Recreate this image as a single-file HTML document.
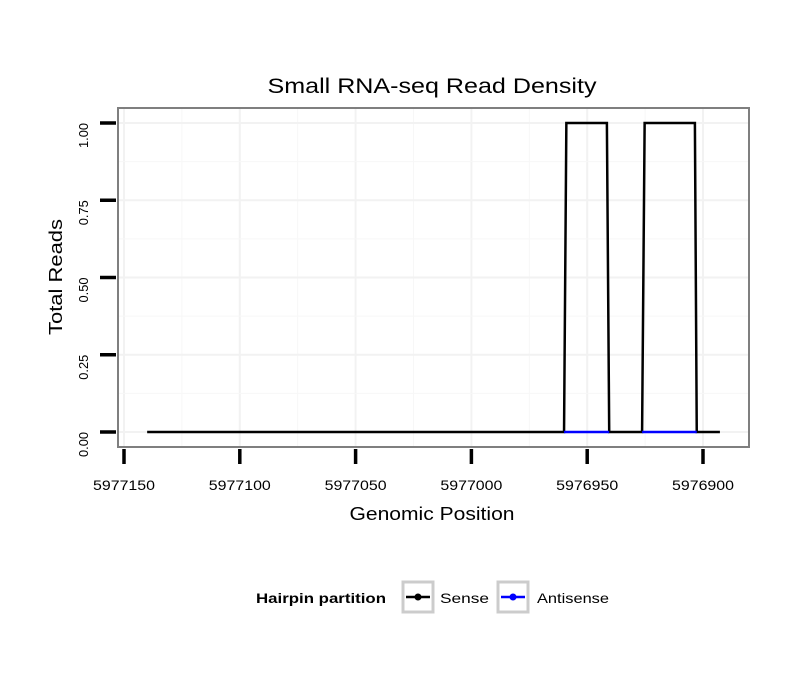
<!DOCTYPE html>
<html><head><meta charset="utf-8"><style>
body{margin:0;background:#fff;}
svg{display:block;font-family:"Liberation Sans",Arial,sans-serif;}
</style></head><body>
<svg id="chart" width="810" height="690"></svg>
<script>
const xTicks=[5977150,5977100,5977050,5977000,5976950,5976900];
const yTicks=[0,0.25,0.5,0.75,1];
const yTickLabels=["0.00","0.25","0.50","0.75","1.00"];
const sensePos=[5977140,5976960,5976959,5976941.5,5976940.5,5976926.3,5976925.2,5976903.5,5976902.7,5976892.7];
const senseVal=[0,0,1,1,0,0,1,1,0,0];
const antiPos1=[5976960,5976940.5];
const antiPos2=[5976926.3,5976902.7];
const antiVal=[0,0];

const NS="http://www.w3.org/2000/svg";
const svg=document.getElementById('chart');
const L=118,R=749,T=108,B=447;
const xs=v=>124+(5977150-v)*(703-124)/250;
const ys=v=>432-v*(432-123);
function el(tag,attrs,parent){const e=document.createElementNS(NS,tag);for(const k in attrs)e.setAttribute(k,attrs[k]);(parent||svg).appendChild(e);return e;}

const panel=el('rect',{x:L,y:T,width:R-L,height:B-T,fill:'#fff'});


for(let i=0;i<xTicks.length;i++){
  const g=el('line',{x1:xs(xTicks[i]),x2:xs(xTicks[i]),y1:T,y2:B,stroke:'#f2f2f2','stroke-width':2});
  
  
  if(i<xTicks.length-1){const m=(xTicks[i]+xTicks[i+1])/2;
    const g2=el('line',{x1:xs(m),x2:xs(m),y1:T,y2:B,stroke:'#f7f7f7','stroke-width':1});
    
    }
}
for(let i=0;i<yTicks.length;i++){
  const g=el('line',{x1:L,x2:R,y1:ys(yTicks[i]),y2:ys(yTicks[i]),stroke:'#f2f2f2','stroke-width':2});
  
  
  if(i<yTicks.length-1){const m=(yTicks[i]+yTicks[i+1])/2;
    const g2=el('line',{x1:L,x2:R,y1:ys(m),y2:ys(m),stroke:'#f7f7f7','stroke-width':1});
    
    }
}
const sp=el('polyline',{points:sensePos.map((p,i)=>xs(p)+','+ys(senseVal[i])).join(' '),fill:'none',stroke:'#000','stroke-width':2.5});


[antiPos1,antiPos2].forEach(a=>{
  const l=el('polyline',{points:a.map((p,i)=>xs(p)+','+ys(antiVal[i])).join(' '),fill:'none',stroke:'#0000ff','stroke-width':2.5});
  
  
});
const border=el('rect',{x:L,y:T,width:R-L,height:B-T,fill:'none',stroke:'#7f7f7f','stroke-width':2});


xTicks.forEach(v=>{
  const t=el('line',{x1:xs(v),x2:xs(v),y1:449,y2:464,stroke:'#000','stroke-width':3.5});
  
  
  const tx=el('text',{x:xs(v),y:490,'text-anchor':'middle','font-size':14,textLength:62,lengthAdjust:'spacingAndGlyphs'});
  tx.textContent=v;
  
  
});
yTicks.forEach((v,i)=>{
  const t=el('line',{x1:100,x2:116,y1:ys(v),y2:ys(v),stroke:'#000','stroke-width':3.5});
  
  
  const tx=el('text',{x:0,y:0,'text-anchor':'end','font-size':13,textLength:25,lengthAdjust:'spacingAndGlyphs',transform:`translate(88,${ys(v)}) rotate(-90)`});
  tx.textContent=yTickLabels[i];
  
  
});
</script>
<div style="position:absolute;left:0;top:0;width:810px;height:690px;pointer-events:none;">
<svg width="810" height="690" style="font-family:'Liberation Sans',Arial,sans-serif">
<text x="432" y="93" text-anchor="middle" font-size="21" textLength="329" lengthAdjust="spacingAndGlyphs">Small RNA-seq Read Density</text>
<text x="432" y="520" text-anchor="middle" font-size="18" textLength="165" lengthAdjust="spacingAndGlyphs">Genomic Position</text>
<text transform="translate(62,277) rotate(-90)" text-anchor="middle" font-size="18" textLength="116" lengthAdjust="spacingAndGlyphs">Total Reads</text>
<g>
<text x="256" y="603" font-size="14" font-weight="bold" textLength="130" lengthAdjust="spacingAndGlyphs">Hairpin partition</text>
<g>
<rect x="403" y="582" width="30" height="30" fill="#fff" stroke="#ccc" stroke-width="3"/>
<line x1="406" x2="430" y1="597" y2="597" stroke="#000" stroke-width="2.5"/>
<circle cx="418" cy="597" r="3.5" fill="#000"/>
<text x="440" y="603" font-size="14" textLength="49" lengthAdjust="spacingAndGlyphs">Sense</text>
</g>
<g>
<rect x="498" y="582" width="30" height="30" fill="#fff" stroke="#ccc" stroke-width="3"/>
<line x1="501" x2="525" y1="597" y2="597" stroke="#0000ff" stroke-width="2.5"/>
<circle cx="513" cy="597" r="3.5" fill="#0000ff"/>
<text x="537" y="603" font-size="14" textLength="72" lengthAdjust="spacingAndGlyphs">Antisense</text>
</g>
</g>
</svg>
</div>
</body></html>
